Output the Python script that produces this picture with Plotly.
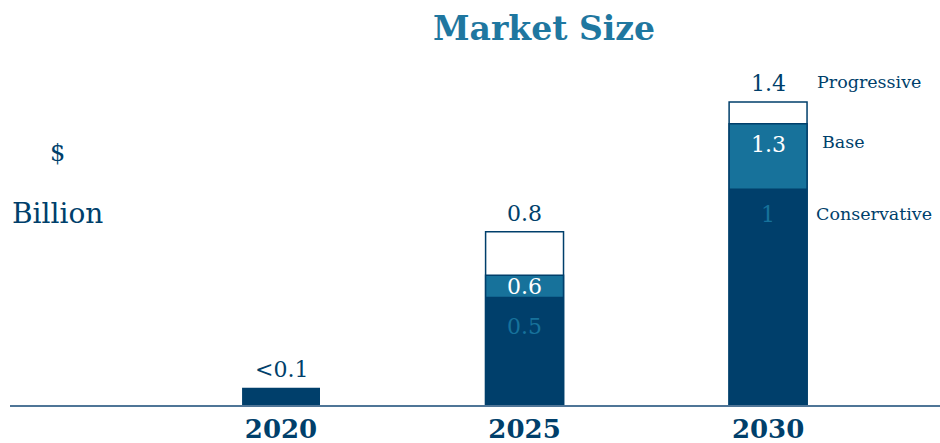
import plotly.graph_objects as go

# Market size scenarios, $ billion (cumulative totals per scenario)
years = ["2020", "2025", "2030"]
conservative = [0.08, 0.5, 1.0]
base = [None, 0.6, 1.3]
progressive = [None, 0.8, 1.4]
top_labels = ["&lt;0.1", "0.8", "1.4"]
conservative_labels = [None, "0.5", "1"]
base_labels = [None, "0.6", "1.3"]
scenario_names = ["Progressive", "Base", "Conservative"]

NAVY = "#003f6b"
TEAL = "#17729b"
TITLE = "#1f77a0"
FONT = "Georgia, 'DejaVu Serif', serif"

fig = go.Figure()

bar_w = 0.32
xs = list(range(len(years)))
# Tallest scenario first, then overlay the lower scenarios on top of it
fig.add_trace(go.Bar(x=xs, y=progressive, width=bar_w,
                     marker=dict(color="white", line=dict(color=NAVY, width=1.5)),
                     hoverinfo="skip"))
fig.add_trace(go.Bar(x=xs, y=base, width=bar_w,
                     marker=dict(color=TEAL, line=dict(color=NAVY, width=1.5)),
                     hoverinfo="skip"))
fig.add_trace(go.Bar(x=xs, y=conservative, width=bar_w,
                     marker=dict(color=NAVY, line=dict(width=0)),
                     hoverinfo="skip"))

annotations = []
# Totals above each bar
for i, (c, p, lab) in enumerate(zip(conservative, progressive, top_labels)):
    top = p if p is not None else c
    annotations.append(dict(x=i, y=top, xref="x", yref="y", text=lab, showarrow=False,
                            yanchor="bottom", yshift=4,
                            font=dict(family=FONT, size=22, color=NAVY)))
# Values inside the segments
base_dy = [0, 3, -6]
for i, (b, lab) in enumerate(zip(base, base_labels)):
    if lab:
        annotations.append(dict(x=i, y=b, xref="x", yref="y", text=lab, showarrow=False,
                                yanchor="top", yshift=base_dy[i],
                                font=dict(family=FONT, size=22, color="white")))
cons_dy = [0, -15, -11]
for i, (c, lab) in enumerate(zip(conservative, conservative_labels)):
    if lab:
        annotations.append(dict(x=i, y=c, xref="x", yref="y", text=lab, showarrow=False,
                                yanchor="top", yshift=cons_dy[i],
                                font=dict(family=FONT, size=22, color=TEAL)))
# Scenario names beside the 2030 bar
name_vals = [progressive[2], base[2], conservative[2]]
name_dx = [47, 52, 46]
name_dy = [20, -18, -25]
for name, val, dx, dy in zip(scenario_names, name_vals, name_dx, name_dy):
    annotations.append(dict(x=2, y=val, xref="x", yref="y", text=name, showarrow=False,
                            xanchor="left", yanchor="middle", xshift=dx, yshift=dy,
                            font=dict(family=FONT, size=17.5, color=NAVY)))
# Unit labels
annotations.append(dict(xref="paper", yref="paper", x=47 / 930, y=0, text="$",
                        showarrow=False, xanchor="center", yanchor="middle",
                        yshift=252,
                        font=dict(family=FONT, size=24, color=NAVY)))
annotations.append(dict(xref="paper", yref="paper", x=0, y=0, text="Billion",
                        showarrow=False, xanchor="left", yanchor="middle",
                        yshift=192,
                        font=dict(family=FONT, size=28, color=NAVY)))

fig.update_layout(
    width=940, height=443,
    margin=dict(l=10, r=0, t=60, b=38),
    paper_bgcolor="white", plot_bgcolor="white",
    barmode="overlay", showlegend=False,
    title=dict(text="<b>Market Size</b>", x=544 / 940, xanchor="center",
               y=1 - 28 / 443, yanchor="middle",
               font=dict(family=FONT, size=33, color=TITLE)),
    xaxis=dict(range=[-1.113, 2.706],
               tickmode="array", tickvals=xs, ticktext=["<b>%s</b>" % y for y in years],
               showline=True, linecolor="#4f7597", linewidth=2,
               showgrid=False, ticks="", zeroline=False,
               tickfont=dict(family=FONT, size=26, color=NAVY),
               ticklabelstandoff=0),
    yaxis=dict(range=[0, 1.594], visible=False, showgrid=False),
    annotations=annotations,
)

fig.write_html("out.html")
